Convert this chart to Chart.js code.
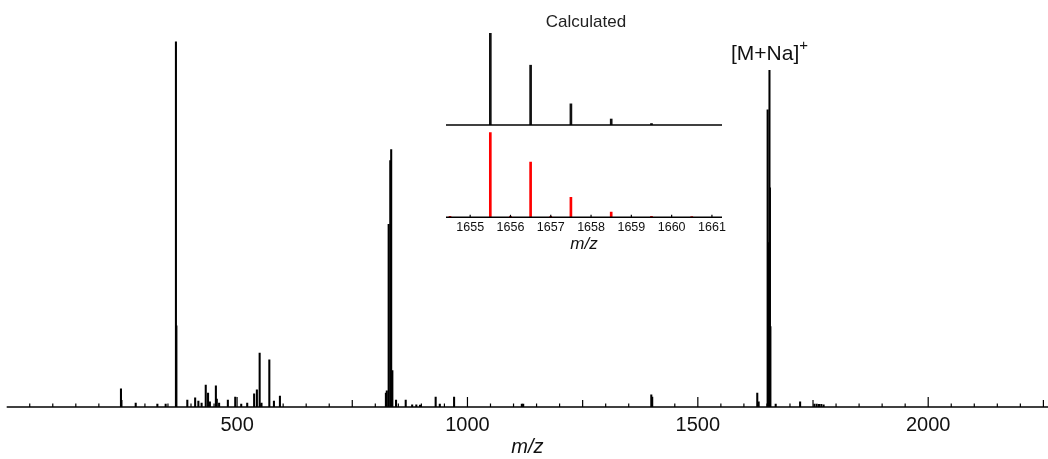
<!DOCTYPE html>
<html>
<head>
<meta charset="utf-8">
<script src="https://cdn.jsdelivr.net/npm/chart.js@4/dist/chart.umd.min.js"></script>
<style>
  html, body { margin: 0; padding: 0; background: #fff; }
  #wrap { position: relative; width: 1048px; height: 459px; overflow: hidden;
          font-family: "Liberation Sans", Arial, sans-serif; color: #111; }
  canvas { position: absolute; }
  #main { left: 0; top: 0; }
  #calc { left: 440px; top: 28px; }
  #exp { left: 440px; top: 125px; }
  .lbl { position: absolute; white-space: nowrap; line-height: 1; }
</style>
</head>
<body>
<div id="wrap">
  <canvas id="main" width="1048" height="459"></canvas>
  <canvas id="calc" width="290" height="100"></canvas>
  <canvas id="exp" width="290" height="130"></canvas>
  <div class="lbl" id="calcTitle" style="left:586px; top:13px; font-size:17px; transform:translateX(-50%); color:#222;">Calculated</div>
  <div class="lbl" id="ionLabel" style="left:731px; top:42px; font-size:21px;">[M+Na]<span style="font-size:15px; position:relative; top:-10px;">+</span></div>
</div>
<script>
// full spectrum: m/z and relative intensity (%)
const MAIN_MZ = [
  248, 280, 327, 345, 367.3, 368.3, 392, 409, 416, 423, 432, 437, 441, 454, 456, 461,
  480, 496, 509, 522, 537, 543, 549, 553, 570, 580, 593,
  823, 825, 829, 832.5, 834.5, 837, 845, 866, 880, 889, 897, 931, 940, 971,
  1118, 1121, 1399, 1401,
  1629, 1632, 1651.5, 1652.5, 1653.5, 1655.5, 1656.5, 1657.5, 1669, 1722,
  1753, 1758, 1763, 1768, 1773
];
const MAIN_INT = [
  5.0, 1.1, 0.8, 0.8, 100, 22.2, 1.9, 2.5, 1.6, 1.1, 6.0, 3.8, 1.4, 5.8, 2.2, 1.1,
  1.9, 2.7, 0.8, 1.1, 3.6, 4.7, 14.8, 1.1, 12.9, 1.6, 3.0,
  3.8, 4.4, 50, 67.5, 70.5, 10, 1.9, 1.9, 0.6, 0.6, 0.5, 2.7, 0.8, 2.7,
  0.8, 0.8, 3.3, 2.7,
  3.8, 1.4, 81.4, 45, 30, 92.2, 60, 22, 0.8, 1.4,
  0.8, 0.8, 0.7, 0.7, 0.6
];
const MAIN_TICK_LABELS = [500, 1000, 1500, 2000];

// inset: calculated (black) and measured (red) isotope pattern
const CALC_MZ = [1655.5, 1656.5, 1657.5, 1658.5, 1659.5];
const CALC_INT = [100, 65, 23, 6.5, 1.6];
const EXP_MZ = [1654.5, 1655.5, 1656, 1656.5, 1657, 1657.5, 1658.5, 1659.5, 1660.5];
const EXP_INT = [1.0, 100, 1.0, 65, 1.0, 23.5, 6.2, 1.2, 0.8];
const INSET_TICK_LABELS = [1655, 1656, 1657, 1658, 1659, 1660, 1661];

Chart.defaults.font.family = '"Liberation Sans", Arial, sans-serif';
Chart.defaults.color = '#111';

// axis line plus short tick marks pointing into the plot
const innerTicks = {
  id: 'innerTicks',
  afterDatasetsDraw(chart, args, opts) {
    const x = chart.scales.x;
    const { ctx, chartArea } = chart;
    ctx.save();
    ctx.strokeStyle = opts.color || '#000';
    ctx.lineWidth = opts.lineWidth || 1.5;
    ctx.beginPath();
    ctx.moveTo(chartArea.left, chartArea.bottom);
    ctx.lineTo(chartArea.right, chartArea.bottom);
    ctx.stroke();
    if (opts.lengths) {
      ctx.lineWidth = 1.2;
      for (const t of x.ticks) {
        const len = opts.lengths(t.value);
        if (!len) continue;
        const px = x.getPixelForValue(t.value);
        ctx.beginPath();
        ctx.moveTo(px, chartArea.bottom);
        ctx.lineTo(px, chartArea.bottom - len);
        ctx.stroke();
      }
    }
    ctx.restore();
  },
};

function points(xs, ys) {
  return xs.map((x, i) => ({ x, y: ys[i] }));
}

// fixed axis box: no automatic room for edge labels
function fixAxis(height) {
  return (scale) => {
    scale.height = height;
    scale.paddingLeft = 0;
    scale.paddingRight = 0;
  };
}

new Chart(document.getElementById('main'), {
  type: 'bar',
  data: {
    datasets: [{
      data: points(MAIN_MZ, MAIN_INT),
      backgroundColor: '#000',
      barThickness: 1.4,
      grouped: false,
    }],
  },
  options: {
    responsive: false,
    animation: false,
    layout: { padding: { left: 6.7, right: 0, top: 32, bottom: 0 } },
    plugins: {
      legend: { display: false },
      tooltip: { enabled: false },
      innerTicks: {
        lineWidth: 1.6,
        lengths: (v) => {
          if (v <= 0 || v % 50 !== 0) return 0;
          if (v % 500 === 0) return 10;
          if (v % 250 === 0) return 7;
          return 3.5;
        },
      },
    },
    scales: {
      x: {
        type: 'linear',
        offset: false,
        min: 0,
        max: 2260,
        grid: { display: false, drawTicks: false, tickLength: 0 },
        border: { display: false },
        ticks: {
          stepSize: 50,
          includeBounds: false,
          autoSkip: false,
          maxRotation: 0,
          padding: 6,
          font: { size: 20 },
          color: '#111',
          callback: (v) => (MAIN_TICK_LABELS.includes(v) ? String(v) : ''),
        },
        title: {
          display: true,
          text: 'm/z',
          font: { size: 20, style: 'italic' },
          color: '#111',
          padding: { top: 0, bottom: 0 },
        },
        afterFit: fixAxis(52),
      },
      y: { display: false, min: 0, max: 102.7 },
    },
  },
  plugins: [innerTicks],
});

new Chart(document.getElementById('calc'), {
  type: 'bar',
  data: {
    datasets: [{
      data: points(CALC_MZ, CALC_INT),
      backgroundColor: '#111',
      barThickness: 2,
      grouped: false,
    }],
  },
  options: {
    responsive: false,
    animation: false,
    layout: { padding: { left: 6, right: 8, top: 5, bottom: 0 } },
    plugins: {
      legend: { display: false },
      tooltip: { enabled: false },
      innerTicks: { lineWidth: 1.6 },
    },
    scales: {
      x: {
        type: 'linear',
        offset: false,
        min: 1654.4,
        max: 1661.25,
        grid: { display: false, drawTicks: false, tickLength: 0 },
        border: { display: false },
        ticks: { display: false },
        afterFit: fixAxis(3),
      },
      y: { display: false, min: 0, max: 100 },
    },
  },
  plugins: [innerTicks],
});

new Chart(document.getElementById('exp'), {
  type: 'bar',
  data: {
    datasets: [{
      data: points(EXP_MZ, EXP_INT),
      backgroundColor: '#ff0000',
      barThickness: 2,
      grouped: false,
    }],
  },
  options: {
    responsive: false,
    animation: false,
    layout: { padding: { left: 6, right: 8, top: 7.3, bottom: 0 } },
    plugins: {
      legend: { display: false },
      tooltip: { enabled: false },
      innerTicks: {
        lineWidth: 1.6,
        lengths: (v) => (Number.isInteger(v) ? 2.5 : 0),
      },
    },
    scales: {
      x: {
        type: 'linear',
        offset: false,
        min: 1654.4,
        max: 1661.25,
        grid: { display: false, drawTicks: false, tickLength: 0 },
        border: { display: false },
        ticks: {
          stepSize: 1,
          includeBounds: false,
          autoSkip: false,
          maxRotation: 0,
          padding: 3,
          font: { size: 12.5 },
          color: '#111',
          callback: (v) => (INSET_TICK_LABELS.includes(v) ? String(v) : ''),
        },
        title: {
          display: true,
          text: 'm/z',
          font: { size: 17, style: 'italic' },
          color: '#111',
          padding: { top: 0, bottom: 1 },
        },
        afterFit: fixAxis(37.7),
      },
      y: { display: false, min: 0, max: 100 },
    },
  },
  plugins: [innerTicks],
});
</script>
</body>
</html>
